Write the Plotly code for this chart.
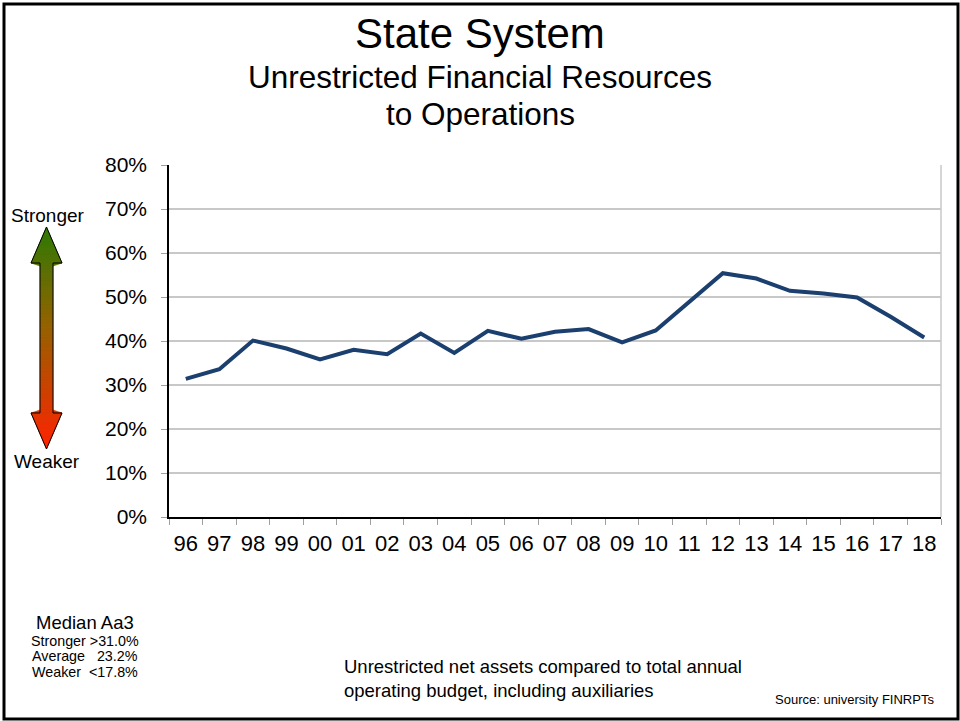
import plotly.graph_objects as go

years = ["96", "97", "98", "99", "00", "01", "02", "03", "04", "05", "06", "07",
         "08", "09", "10", "11", "12", "13", "14", "15", "16", "17", "18"]
ratio = [0.314, 0.336, 0.401, 0.383, 0.358, 0.380, 0.370, 0.417, 0.373, 0.423, 0.405, 0.421,
         0.427, 0.397, 0.424, 0.488, 0.554, 0.542, 0.514, 0.508, 0.499, 0.455, 0.408]
y_ticks = [0, 0.1, 0.2, 0.3, 0.4, 0.5, 0.6, 0.7, 0.8]

W, H = 960, 721
L, R, T, B = 169, 941, 165, 517
FONT = "Liberation Sans, Arial, sans-serif"


def px(x):
    return (x - L) / (R - L)


def py(y):
    return (B - y) / (B - T)


fig = go.Figure()
fig.add_trace(go.Scatter(x=years, y=ratio, mode="lines",
                         line=dict(color="#1b3f6e", width=4), hoverinfo="x+y"))

shapes = []
# gradient arrow (decoration)
top_tip, top_base, bot_base, bot_tip = 227, 263, 413, 449
cx, head_hw, shaft_hw = 46.5, 15.5, 6.5


def half_width(y):
    if y <= top_base:
        return head_hw * (y - top_tip) / (top_base - top_tip)
    if y >= bot_base:
        return head_hw * (bot_tip - y) / (bot_tip - bot_base)
    return shaft_hw


def color_at(t):
    stops = [(0.0, (45, 122, 5)), (0.45, (150, 98, 0)), (1.0, (255, 35, 0))]
    for (t0, c0), (t1, c1) in zip(stops[:-1], stops[1:]):
        if t <= t1:
            f = (t - t0) / (t1 - t0)
            c = [round(a + (b - a) * f) for a, b in zip(c0, c1)]
            return "rgb(%d,%d,%d)" % tuple(c)
    return "rgb(255,35,0)"


n = 74
edges = [top_tip + (bot_tip - top_tip) * i / n for i in range(n + 1)]
extra = [top_base, bot_base]
for i in range(n):
    y0, y1 = edges[i], edges[i + 1]
    pts_y = sorted(set([y0, y1] + [e for e in extra if y0 < e < y1]))
    left = [(cx - half_width(y), y) for y in pts_y]
    right = [(cx + half_width(y), y) for y in reversed(pts_y)]
    poly = left + right
    path = "M " + " L ".join("%f,%f" % (px(x), py(y)) for x, y in poly) + " Z"
    col = color_at(((y0 + y1) / 2 - top_tip) / (bot_tip - top_tip))
    shapes.append(dict(type="path", xref="paper", yref="paper", path=path,
                       fillcolor=col, line=dict(width=0.6, color=col)))

outline = [(cx, top_tip), (cx + head_hw, top_base), (cx + shaft_hw, top_base),
           (cx + shaft_hw, bot_base), (cx + head_hw, bot_base), (cx, bot_tip),
           (cx - head_hw, bot_base), (cx - shaft_hw, bot_base), (cx - shaft_hw, top_base),
           (cx - head_hw, top_base)]
shapes.append(dict(type="path", xref="paper", yref="paper",
                   path="M " + " L ".join("%f,%f" % (px(x), py(y)) for x, y in outline) + " Z",
                   line=dict(color="black", width=1)))

# right plot border
shapes.append(dict(type="line", xref="paper", yref="paper", x0=1, x1=1, y0=0, y1=1,
                   line=dict(color="#c8c8c8", width=1.5)))
# outer frame
shapes.append(dict(type="rect", xref="paper", yref="paper",
                   x0=px(4), x1=px(958), y0=py(4), y1=py(719),
                   line=dict(color="black", width=3)))

annotations = []


def text(x, y, s, size, anchor="center"):
    annotations.append(dict(x=px(x), y=py(y), xref="paper", yref="paper", text=s,
                            showarrow=False, xanchor=anchor, yanchor="middle",
                            font=dict(family=FONT, size=size, color="black")))


text(480, 33, "State System", 42)
text(480, 77, "Unrestricted Financial Resources", 31.5)
text(480, 114, "to Operations", 31.5)
text(48, 215, "Stronger", 19)
text(47, 461, "Weaker", 19)
text(85, 622, "Median Aa3", 18.5)
text(85, 641, "Stronger >31.0%", 14.3)
text(85, 656, "Average   23.2%", 14.3)
text(85, 672, "Weaker  <17.8%", 14.3)
text(342, 666, "Unrestricted net assets compared to total annual", 18.5, "left")
text(342, 690, "operating budget, including auxiliaries", 18.5, "left")
text(936, 699, "Source: university FINRPTs", 13, "right")

fig.update_layout(
    width=W, height=H,
    margin=dict(l=L, r=W - R, t=T, b=H - B, pad=0),
    paper_bgcolor="white", plot_bgcolor="white",
    showlegend=False,
    font=dict(family=FONT, color="black"),
    shapes=shapes, annotations=annotations,
    xaxis=dict(type="category", showgrid=False, showline=True, linecolor="black", linewidth=1.5,
               ticks="outside", tickson="boundaries", ticklen=6, tickcolor="#a0a0a0",
               tickfont=dict(size=22, family=FONT, color="black"), ticklabelstandoff=6,
               range=[-0.5, len(years) - 0.5], fixedrange=True),
    yaxis=dict(range=[0, 0.8], tickvals=y_ticks, tickformat=".0%", showgrid=True,
               gridcolor="#c8c8c8", gridwidth=1.5, zeroline=False,
               showline=True, linecolor="black", linewidth=1.5,
               ticks="outside", ticklen=6, tickcolor="#a0a0a0",
               tickfont=dict(size=21, family=FONT, color="black"), ticklabelstandoff=10,
               fixedrange=True),
)

fig.write_html("out.html", config={"displayModeBar": False},
               post_script="document.body.style.margin='0';")
